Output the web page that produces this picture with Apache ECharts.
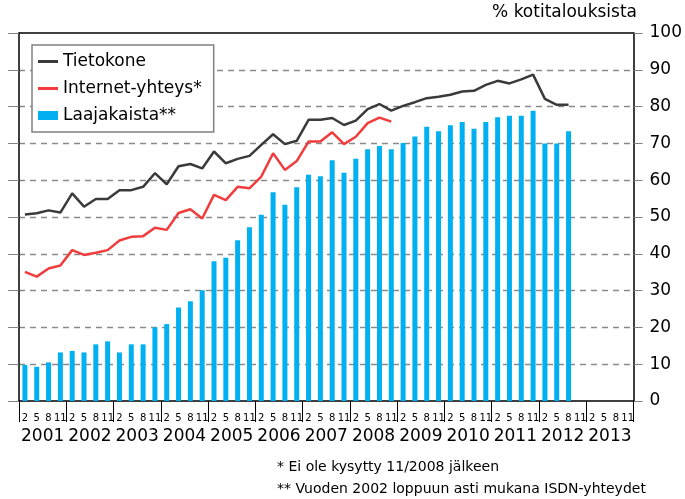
<!DOCTYPE html>
<html>
<head>
<meta charset="utf-8">
<title>Kotitaloudet</title>
<script src="https://cdn.jsdelivr.net/npm/echarts@6/dist/echarts.min.js"></script>
<style>
  html, body { margin: 0; padding: 0; background: #fff; }
  #chart { width: 685px; height: 499px; }
</style>
</head>
<body>
<div id="chart"></div>
<script>
// vuodet ja kuukaudet (neljännesvuosittain)
const years = ['2001', '2002', '2003', '2004', '2005', '2006', '2007',
  '2008', '2009', '2010', '2011', '2012', '2013'];
const quarterMonths = ['2', '5', '8', '11'];
const quarterLabels = years.flatMap(() => quarterMonths);

// % kotitalouksista
const tietokone = [50.7, 51.0, 51.8, 51.2, 56.4, 52.8, 54.9, 54.9, 57.3, 57.3,
  58.2, 61.9, 58.9, 63.8, 64.4, 63.2, 67.8, 64.6, 65.8, 66.6, 69.6, 72.5, 69.8,
  70.7, 76.4, 76.4, 76.9, 75.0, 76.2, 79.3, 80.7, 78.9, 80.2, 81.2, 82.3, 82.7,
  83.2, 84.1, 84.3, 85.9, 87.0, 86.3, 87.4, 88.7, 82.1, 80.5, 80.5];
const internet = [35.1, 33.8, 36.0, 36.8, 41.0, 39.7, 40.3, 41.0, 43.6, 44.6,
  44.8, 47.1, 46.5, 51.1, 52.1, 49.6, 56.0, 54.6, 58.2, 57.8, 61.0, 67.3, 62.8,
  65.2, 70.5, 70.5, 73.0, 69.8, 71.8, 75.5, 77.0, 75.9];
const laajakaista = [9.8, 9.3, 10.5, 13.2, 13.6, 13.2, 15.4, 16.2, 13.2, 15.4,
  15.4, 20.0, 20.9, 25.4, 27.1, 30.1, 38.0, 38.9, 43.7, 47.2, 50.6, 56.7, 53.3,
  58.1, 61.5, 61.1, 65.4, 62.0, 65.8, 68.4, 69.3, 68.4, 70.1, 71.9, 74.5, 73.3,
  74.9, 75.8, 74.0, 75.8, 77.1, 77.5, 77.5, 78.9, 70.0, 70.0, 73.3];

const FONT = 'DejaVu Sans';
const LINE_ICON = 'path://M0,0h20v3h-20z'; // ohut viiva selitteeseen
const chart = echarts.init(document.getElementById('chart'));

chart.setOption({
  animation: false,
  backgroundColor: '#fff',
  textStyle: { fontFamily: FONT, color: '#000' },
  title: {
    text: '% kotitalouksista',
    right: 48,
    top: 4,
    padding: 0,
    textStyle: { fontFamily: FONT, fontSize: 17, fontWeight: 'normal', color: '#000' }
  },
  legend: {
    orient: 'vertical',
    left: 32,
    top: 45,
    itemWidth: 20,
    itemHeight: 9,
    itemGap: 10,
    padding: [8, 12, 8, 6],
    backgroundColor: '#fff',
    borderColor: '#808080',
    borderWidth: 1.5,
    textStyle: { fontFamily: FONT, fontSize: 17, color: '#000' },
    data: [
      { name: 'Tietokone', icon: LINE_ICON },
      { name: 'Internet-yhteys*', icon: LINE_ICON },
      { name: 'Laajakaista**', icon: 'rect' }
    ]
  },
  grid: { left: 19, right: 49, top: 33, bottom: 98 },
  xAxis: [
    {
      type: 'category',
      data: quarterLabels,
      position: 'bottom',
      axisLine: { lineStyle: { color: '#000', width: 1.5 } },
      axisTick: { show: false },
      axisLabel: { interval: 0, fontSize: 10, margin: 12, color: '#000', fontFamily: FONT }
    },
    {
      type: 'category',
      data: years,
      position: 'bottom',
      offset: 26,
      axisLine: { show: false },
      axisTick: { show: true, interval: 0, length: 21, lineStyle: { color: '#000' } },
      axisLabel: { interval: 0, fontSize: 17, margin: 1, color: '#000', fontFamily: FONT }
    },
    {
      type: 'category',
      data: years,
      position: 'top',
      axisLine: { lineStyle: { color: '#000', width: 1.5 } },
      axisTick: { show: false },
      axisLabel: { show: false }
    }
  ],
  yAxis: [
    {
      type: 'value',
      position: 'left',
      min: 0,
      max: 100,
      interval: 10,
      axisLine: { show: true, lineStyle: { color: '#000', width: 1.5 } },
      axisTick: { show: true, length: 11, lineStyle: { color: '#808080' } },
      axisLabel: { show: false },
      splitLine: {
        show: true,
        showMinLine: false,
        showMaxLine: false,
        lineStyle: { color: '#8a8a8a', width: 1.3, type: [6, 5] }
      }
    },
    {
      type: 'value',
      position: 'right',
      min: 0,
      max: 100,
      interval: 10,
      axisLine: { show: true, lineStyle: { color: '#000', width: 1.5 } },
      axisTick: { show: true, length: 9, lineStyle: { color: '#808080' } },
      axisLabel: { margin: 16, fontSize: 17, color: '#000', fontFamily: FONT },
      splitLine: { show: false }
    }
  ],
  series: [
    {
      name: 'Laajakaista**',
      type: 'bar',
      data: laajakaista,
      barWidth: 5,
      itemStyle: { color: '#00b0f0' }
    },
    {
      name: 'Tietokone',
      type: 'line',
      data: tietokone,
      symbol: 'none',
      lineStyle: { color: '#3a3a3a', width: 2.5 },
      itemStyle: { color: '#3a3a3a' }
    },
    {
      name: 'Internet-yhteys*',
      type: 'line',
      data: internet,
      symbol: 'none',
      lineStyle: { color: '#f03c3c', width: 2.5 },
      itemStyle: { color: '#f03c3c' }
    }
  ],
  graphic: [
    {
      type: 'text',
      left: 277,
      top: 460,
      style: { text: '* Ei ole kysytty 11/2008 jälkeen', fontFamily: FONT, fontSize: 14, fill: '#000' }
    },
    {
      type: 'text',
      left: 277,
      top: 482,
      style: { text: '** Vuoden 2002 loppuun asti mukana ISDN-yhteydet', fontFamily: FONT, fontSize: 14, fill: '#000' }
    }
  ]
});
</script>
</body>
</html>
